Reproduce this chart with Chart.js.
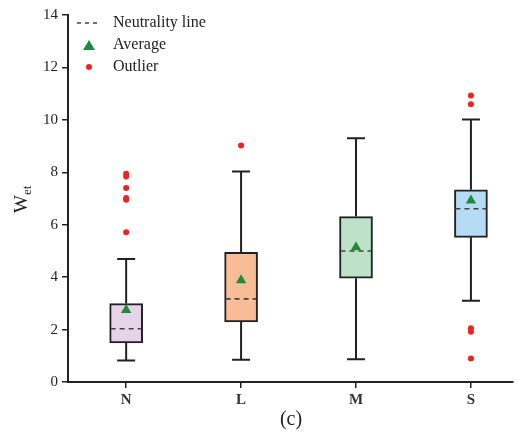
<!DOCTYPE html>
<html>
<head>
<meta charset="utf-8">
<script src="https://cdn.jsdelivr.net/npm/chart.js@4/dist/chart.umd.min.js"></script>
<style>
    html, body { margin: 0; background: #fff; overflow: hidden; }
    #wrap { width: 519px; height: 435px; }
</style>
</head>
<body>
<div id="wrap"><canvas id="grafico"></canvas></div>
<script>
// Datos
const categorias = ['N', 'L', 'M', 'S'];
const bigoteInf = [0.82, 0.85, 0.87, 3.10];
const cuartil1 = [1.49, 2.29, 3.96, 5.52];
const mediana = [2.03, 3.17, 5.00, 6.61];
const cuartil3 = [2.99, 4.95, 6.31, 7.33];
const bigoteSup = [4.69, 8.03, 9.30, 10.01];
const promedios = [2.75, 3.88, 5.14, 6.92];
const atipicos = [
    [5.71, 6.95, 7.02, 7.40, 7.84, 7.94],
    [9.02],
    [],
    [0.90, 1.92, 2.05, 10.60, 10.93]
];
const ticksY = [0, 2, 4, 6, 8, 10, 12, 14];
const coloresCaja = ['#e5d3e8', '#f8bc96', '#bde2c8', '#b5dcf4'];

const serif = '"Liberation Serif", "Times New Roman", serif';
const ANCHO_CAJA = 33;

const cajasPlugin = {
    id: 'cajas',
    beforeDatasetsDraw(chart) {
        const { ctx, scales: { x, y } } = chart;
        ctx.save();
        ctx.strokeStyle = '#222';
        ctx.lineWidth = 2;
        categorias.forEach((c, i) => {
            const px = x.getPixelForValue(i + 1);
            const yLo = y.getPixelForValue(bigoteInf[i]);
            const yHi = y.getPixelForValue(bigoteSup[i]);
            const yQ1 = y.getPixelForValue(cuartil1[i]);
            const yQ3 = y.getPixelForValue(cuartil3[i]);
            ctx.beginPath();
            ctx.moveTo(px, yLo); ctx.lineTo(px, yQ1);
            ctx.moveTo(px, yQ3); ctx.lineTo(px, yHi);
            ctx.moveTo(px - 9, yLo); ctx.lineTo(px + 9, yLo);
            ctx.moveTo(px - 9, yHi); ctx.lineTo(px + 9, yHi);
            ctx.stroke();
        });
        ctx.restore();
    },
    afterDatasetDraw(chart, args) {
        if (args.index !== 0) return;
        const { ctx, scales: { x, y } } = chart;
        ctx.save();
        ctx.strokeStyle = '#444';
        ctx.lineWidth = 1.6;
        ctx.setLineDash([5, 4]);
        categorias.forEach((c, i) => {
            const px = x.getPixelForValue(i + 1);
            const py = y.getPixelForValue(mediana[i]);
            ctx.beginPath();
            ctx.moveTo(px - ANCHO_CAJA / 2 + 1, py);
            ctx.lineTo(px + ANCHO_CAJA / 2 - 1, py);
            ctx.stroke();
        });
        ctx.restore();
    },
    afterDraw(chart) {
        const { ctx } = chart;
        ctx.save();
        // leyenda
        ctx.fillStyle = '#222';
        ctx.font = '16px ' + serif;
        ctx.textBaseline = 'middle';
        ctx.textAlign = 'left';
        ctx.strokeStyle = '#444';
        ctx.lineWidth = 1.5;
        ctx.setLineDash([4, 4]);
        ctx.beginPath(); ctx.moveTo(77, 23); ctx.lineTo(101, 23); ctx.stroke();
        ctx.setLineDash([]);
        ctx.fillText('Neutrality line', 113, 23);
        ctx.fillStyle = '#1f8a3c';
        ctx.beginPath(); ctx.moveTo(89, 40); ctx.lineTo(95, 50); ctx.lineTo(83, 50); ctx.closePath(); ctx.fill();
        ctx.fillStyle = '#222';
        ctx.fillText('Average', 113, 45);
        ctx.fillStyle = '#ee2222';
        ctx.beginPath(); ctx.arc(89, 67, 3, 0, Math.PI * 2); ctx.fill();
        ctx.fillStyle = '#222';
        ctx.fillText('Outlier', 113, 67);

        // titulo eje y con subindice
        ctx.translate(27, 213);
        ctx.rotate(-Math.PI / 2);
        ctx.textAlign = 'left';
        ctx.textBaseline = 'alphabetic';
        ctx.font = '19px ' + serif;
        const w = ctx.measureText('W').width;
        ctx.fillText('W', 0, 0);
        ctx.font = '13px ' + serif;
        ctx.fillText('et', w, 4);
        ctx.setTransform(1, 0, 0, 1, 0, 0);

        // titulo inferior
        ctx.font = '20px ' + serif;
        ctx.textAlign = 'center';
        ctx.textBaseline = 'middle';
        ctx.fillText('(c)', 291, 420);
        ctx.restore();
    }
};

new Chart(document.getElementById('grafico'), {
    type: 'bar',
    data: {
        datasets: [
            {
                type: 'bar',
                data: categorias.map((c, i) => ({ x: i + 1, y: [cuartil1[i], cuartil3[i]] })),
                backgroundColor: coloresCaja,
                borderColor: '#222',
                borderWidth: 2,
                borderSkipped: false,
                barThickness: ANCHO_CAJA,
                order: 3
            },
            {
                type: 'line',
                data: categorias.map((c, i) => ({ x: i + 1, y: promedios[i] })),
                showLine: false,
                pointStyle: 'triangle',
                pointRadius: 6,
                backgroundColor: '#1f8a3c',
                borderColor: '#1f8a3c',
                borderWidth: 0,
                order: 1
            },
            {
                type: 'line',
                data: atipicos.flatMap((arr, i) => arr.map(v => ({ x: i + 1, y: v }))),
                showLine: false,
                pointStyle: 'circle',
                pointRadius: 3,
                backgroundColor: '#ee2222',
                borderColor: '#ee2222',
                borderWidth: 0,
                order: 2
            }
        ]
    },
    options: {
        responsive: true,
        maintainAspectRatio: false,
        animation: false,
        layout: { padding: { top: 15, right: 0, left: 0, bottom: 0 } },
        plugins: {
            legend: { display: false },
            tooltip: { enabled: false }
        },
        scales: {
            x: {
                type: 'linear',
                min: 0.494,
                max: 4.366,
                offset: false,
                afterBuildTicks: s => { s.ticks = categorias.map((c, i) => ({ value: i + 1 })); },
                afterFit: s => { s.height = 53; },
                ticks: {
                    callback: v => categorias[v - 1],
                    font: { family: serif, size: 15, weight: 'bold' },
                    color: '#333',
                    padding: 3,
                    maxRotation: 0
                },
                grid: { offset: false, drawOnChartArea: false, tickLength: 6, color: '#222', lineWidth: 1.5 },
                border: { color: '#222', width: 2 }
            },
            y: {
                min: 0,
                max: 14,
                afterBuildTicks: s => { s.ticks = ticksY.map(v => ({ value: v })); },
                afterFit: s => { s.width = 68; },
                ticks: {
                    font: { family: serif, size: 15 },
                    color: '#222',
                    padding: 4
                },
                grid: { drawOnChartArea: false, tickLength: 6, color: '#222', lineWidth: 1.5 },
                border: { color: '#222', width: 2 }
            }
        }
    },
    plugins: [cajasPlugin]
});
</script>
</body>
</html>
